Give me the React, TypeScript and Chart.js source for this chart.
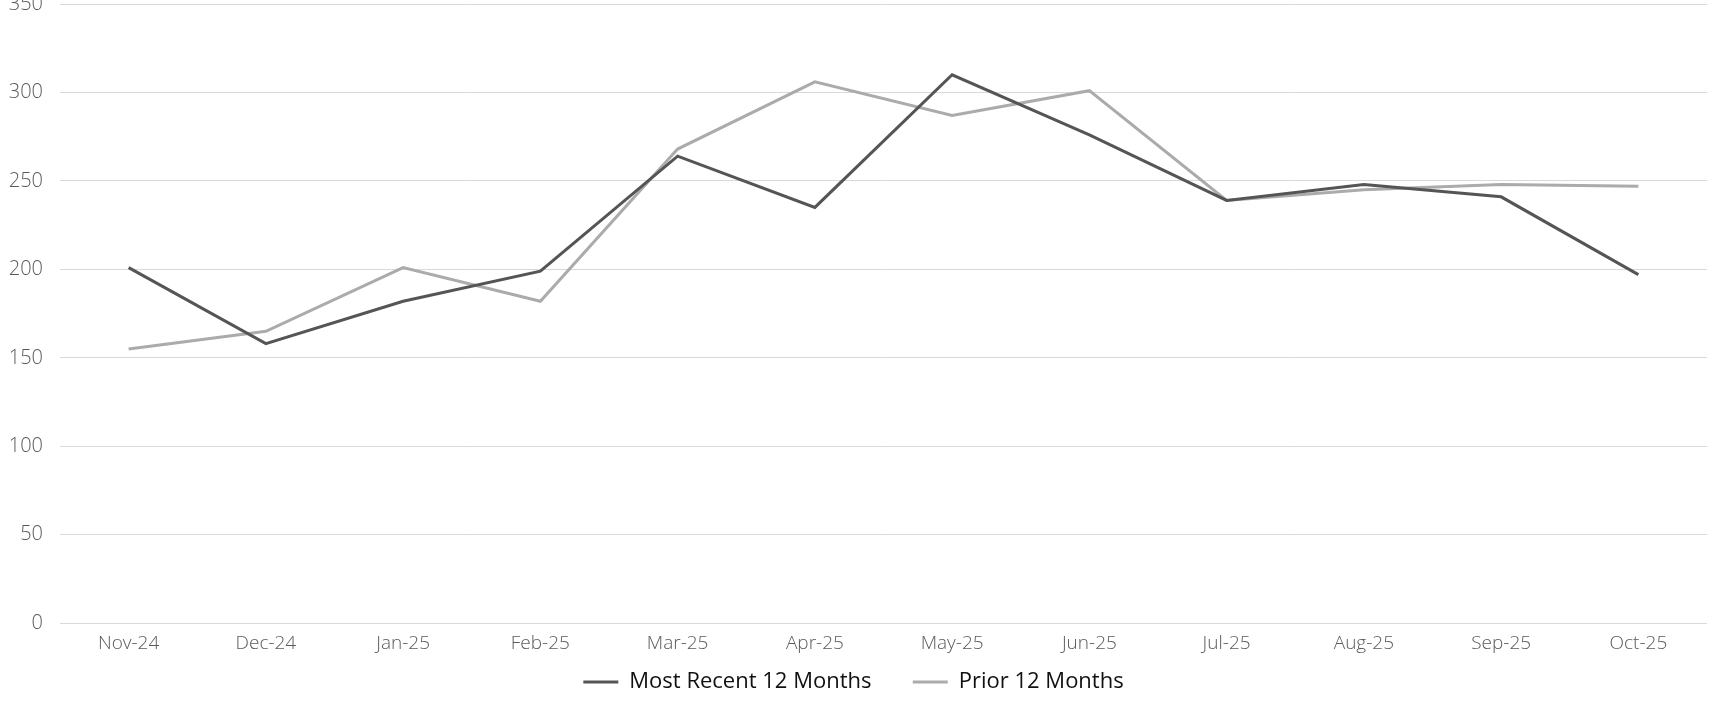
import React, { useEffect, useRef } from "react";
import { Chart, registerables } from "chart.js";

Chart.register(...registerables);

const categories = ["Nov-24", "Dec-24", "Jan-25", "Feb-25", "Mar-25", "Apr-25", "May-25", "Jun-25", "Jul-25", "Aug-25", "Sep-25", "Oct-25"];
const mostRecent = [201, 158, 182, 199, 264, 235, 310, 276, 239, 248, 241, 197];
const prior = [155, 165, 201, 182, 268, 306, 287, 301, 239, 245, 248, 247];
const yTicks = [0, 50, 100, 150, 200, 250, 300, 350];

export default function App() {
  const ref = useRef<HTMLCanvasElement | null>(null);
  useEffect(() => {
    if (!ref.current) return;
    const chart = new Chart(ref.current, {
      type: "line",
      data: {
        labels: categories,
        datasets: [
          {
            label: "Most Recent 12 Months",
            data: mostRecent,
            borderColor: "#555555",
            backgroundColor: "#555555",
            borderWidth: 3,
            pointRadius: 0,
            tension: 0,
          },
          {
            label: "Prior 12 Months",
            data: prior,
            borderColor: "#ababab",
            backgroundColor: "#ababab",
            borderWidth: 3,
            pointRadius: 0,
            tension: 0,
          },
        ],
      },
      options: {
        animation: false,
        responsive: false,
        maintainAspectRatio: false,
        layout: { padding: { top: 4, right: 11, bottom: 8, left: 0 } },
        plugins: {
          tooltip: { enabled: false },
          legend: {
            position: "bottom",
            labels: {
              usePointStyle: true,
              pointStyle: "line",
              pointStyleWidth: 35,
              boxHeight: 3,
              padding: 7,
              color: "#111111",
              font: { family: "'Open Sans', sans-serif", size: 22 },
              generateLabels: (c: any) => {
                const items = Chart.defaults.plugins.legend.labels.generateLabels(c);
                return items.map((it: any, i: number) =>
                  i < items.length - 1 ? { ...it, text: it.text + "      " } : it
                );
              },
            },
          },
        },
        scales: {
          x: {
            offset: true,
            grid: { display: false, drawTicks: false },
            border: { display: false },
            ticks: {
              color: "#5a5a5a",
              padding: 9,
              maxRotation: 0,
              autoSkip: false,
              font: { family: "'Open Sans', sans-serif", size: 19, weight: "300" },
            },
          },
          y: {
            min: 0,
            max: 350,
            afterBuildTicks: (scale: any) => {
              scale.ticks = yTicks.map((v) => ({ value: v }));
            },
            afterFit: (scale: any) => {
              scale.width = 60;
              scale.paddingTop = 0;
              scale.paddingBottom = 0;
            },
            grid: { color: "#d9d9d9", lineWidth: 1, drawTicks: false },
            border: { display: false },
            ticks: {
              color: "#5a5a5a",
              padding: 17,
              font: { family: "'Open Sans', sans-serif", size: 20, weight: "300" },
            },
          },
        },
      },
    });
    return () => chart.destroy();
  }, []);
  return (
    <div style={{ position: "absolute", left: 0, top: 0, width: 1718, height: 711, background: "#fff" }}>
      <canvas ref={ref} width={1718} height={711} style={{ display: "block" }} />
    </div>
  );
}
